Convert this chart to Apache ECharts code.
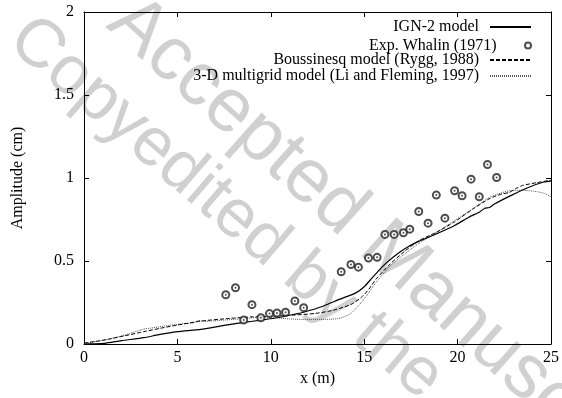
<!DOCTYPE html>
<html>
<head>
<meta charset="utf-8">
<script src="https://cdn.jsdelivr.net/npm/echarts@6/dist/echarts.min.js"></script>
<style>html,body{margin:0;padding:0;background:#fff}#c{width:562px;height:398px}</style>
</head>
<body>
<div id="c"></div>
<script>
const xTicks = [0, 5, 10, 15, 20, 25];
const yTicks = [0, 0.5, 1, 1.5, 2];
const seriesNames = ['IGN-2 model', 'Exp. Whalin (1971)', 'Boussinesq model (Rygg, 1988)', '3-D multigrid model (Li and Fleming, 1997)'];

const ign2 = [[0,0],[0.5,0.001],[1.1,0.004],[2,0.02],[3.2,0.038],[4,0.056],[5,0.074],[6.25,0.088],[7.5,0.112],[8.55,0.13],[9.5,0.144],[10.65,0.164],[11.3,0.18],[11.8,0.193],[12.76,0.226],[13.7,0.27],[14.55,0.308],[15.0,0.345],[15.4,0.395],[15.8,0.445],[16.2,0.49],[16.84,0.548],[17.35,0.586],[17.92,0.618],[18.88,0.664],[19.84,0.714],[20.6,0.764],[21.2,0.797],[21.45,0.818],[21.7,0.822],[21.95,0.842],[22.9,0.897],[23.85,0.946],[24.62,0.976],[25,0.981]];

const whalin = [[7.59,0.297],[8.11,0.339],[8.99,0.237],[8.55,0.144],[9.47,0.158],[9.93,0.183],[10.33,0.187],[10.79,0.191],[11.29,0.259],[11.76,0.219],[13.77,0.435],[14.29,0.479],[14.69,0.463],[15.23,0.518],[15.69,0.522],[16.11,0.66],[16.6,0.66],[17.1,0.67],[17.44,0.692],[17.92,0.798],[18.42,0.728],[18.86,0.897],[19.32,0.758],[19.84,0.923],[20.24,0.893],[20.72,0.993],[21.16,0.887],[21.6,1.081],[22.09,1.003]];

const boussinesq = [[0,0.006],[0.6,0.015],[1.28,0.028],[2.2,0.05],[3.19,0.074],[4.1,0.095],[5,0.114],[6.25,0.138],[7.78,0.154],[8.93,0.163],[10.08,0.167],[11.2,0.174],[12.38,0.184],[13.33,0.203],[14.29,0.238],[14.86,0.282],[15.25,0.33],[15.63,0.39],[16.39,0.482],[17.16,0.558],[17.92,0.622],[18.88,0.674],[19.84,0.736],[20.8,0.812],[21.75,0.878],[22.4,0.905],[22.75,0.912],[23.1,0.935],[23.47,0.955],[24.24,0.972],[25,0.987]];

const multigrid = [[0,0.004],[0.6,0.014],[1.28,0.028],[2.3,0.058],[3.2,0.09],[3.6,0.096],[4.53,0.112],[5.3,0.122],[5.87,0.128],[6.16,0.142],[6.4,0.136],[7.02,0.14],[8.55,0.153],[9.7,0.163],[10.3,0.16],[10.65,0.154],[11.6,0.148],[12.76,0.148],[13.3,0.15],[13.7,0.155],[14.29,0.184],[14.86,0.252],[15.25,0.31],[15.63,0.37],[16.39,0.47],[17.16,0.542],[17.92,0.606],[18.88,0.672],[19.84,0.744],[20.8,0.814],[21.75,0.886],[22.71,0.922],[23.47,0.926],[24.24,0.918],[24.7,0.905],[25,0.887]];

const SERIF = '"Liberation Serif","DejaVu Serif",serif';
const chart = echarts.init(document.getElementById('c'), null, {renderer: 'canvas'});

function legendAt(name, top, isLine) {
  const lg = {
    data: [name], right: 30, top: top, align: 'right', orient: 'horizontal',
    itemWidth: 41, itemHeight: isLine ? 10 : 6, padding: 0, selectedMode: false,
    formatter: function (n) { return '{t|' + n + '}'; },
    textStyle: {fontFamily: SERIF, fontSize: 16, color: '#000',
      rich: {t: {fontFamily: SERIF, fontSize: 16, color: '#000', padding: [0, 6, 0, 0]}}}
  };
  if (isLine) lg.itemStyle = {color: 'rgba(0,0,0,0)', borderWidth: 0, opacity: 0};
  return lg;
}

const axisCommon = {
  type: 'value', splitLine: {show: false},
  axisLine: {show: true, onZero: false, lineStyle: {color: '#000', width: 1}},
  axisTick: {show: true, inside: true, length: 5, lineStyle: {color: '#000'}}
};

chart.setOption({
  animation: false,
  backgroundColor: '#fff',
  grid: {left: 84, right: 9, top: 12, bottom: 54},
  graphic: [
    {type: 'text', z: -10, silent: true, x: 119, y: 11, rotation: -0.73,
     style: {text: 'Accepted Manuscript', fontFamily: '"Liberation Sans",Arial,sans-serif', fontSize: 76, fill: '#d0d0d0', textVerticalAlign: 'middle', textAlign: 'left'}},
    {type: 'text', z: -10, silent: true, x: 18, y: 30, rotation: -0.71,
     style: {text: 'Copyedited by the', fontFamily: '"Liberation Sans",Arial,sans-serif', fontSize: 68, fill: '#d0d0d0', textVerticalAlign: 'middle', textAlign: 'left'}}
  ],
  legend: [
    legendAt(seriesNames[0], 19, true),
    legendAt(seriesNames[1], 37.5, false),
    legendAt(seriesNames[2], 52, true),
    legendAt(seriesNames[3], 68, true)
  ],
  xAxis: [
    Object.assign({}, axisCommon, {
      position: 'bottom', min: xTicks[0], max: xTicks[xTicks.length - 1], interval: 5,
      name: 'x (m)', nameLocation: 'middle', nameGap: 26,
      nameTextStyle: {fontFamily: SERIF, fontSize: 16, color: '#000'},
      axisLabel: {fontFamily: SERIF, fontSize: 16, color: '#000', margin: 6}
    }),
    Object.assign({}, axisCommon, {
      position: 'top', min: xTicks[0], max: xTicks[xTicks.length - 1], interval: 5,
      axisLabel: {show: false}
    })
  ],
  yAxis: [
    Object.assign({}, axisCommon, {
      position: 'left', min: yTicks[0], max: yTicks[yTicks.length - 1], interval: 0.5,
      name: 'Amplitude (cm)', nameLocation: 'middle', nameGap: 58,
      nameTextStyle: {fontFamily: SERIF, fontSize: 16, color: '#000'},
      axisLabel: {fontFamily: SERIF, fontSize: 16, color: '#000', margin: 10}
    }),
    Object.assign({}, axisCommon, {
      position: 'right', min: yTicks[0], max: yTicks[yTicks.length - 1], interval: 0.5,
      axisLabel: {show: false}
    })
  ],
  series: [
    {name: seriesNames[0], type: 'line', data: ign2, symbol: 'none', smooth: 0.2,
     lineStyle: {color: '#000', width: 1.2, type: 'solid'}, itemStyle: {color: '#000'}, z: 5},
    {name: seriesNames[1], type: 'scatter', data: whalin, symbol: 'emptyCircle', symbolSize: 7,
     itemStyle: {color: '#222', borderColor: '#222', borderWidth: 1}, z: 6},
    {name: 'dots', type: 'scatter', data: whalin, symbol: 'circle', symbolSize: 2,
     itemStyle: {color: '#222'}, z: 7},
    {name: seriesNames[2], type: 'line', data: boussinesq, symbol: 'none', smooth: 0.2,
     lineStyle: {color: '#000', width: 1, type: [4, 2]}, itemStyle: {color: '#000'}, z: 4},
    {name: seriesNames[3], type: 'line', data: multigrid, symbol: 'none', smooth: 0.2,
     lineStyle: {color: '#555', width: 1, type: [1, 1]}, itemStyle: {color: '#555'}, z: 3}
  ]
});
</script>
</body>
</html>
